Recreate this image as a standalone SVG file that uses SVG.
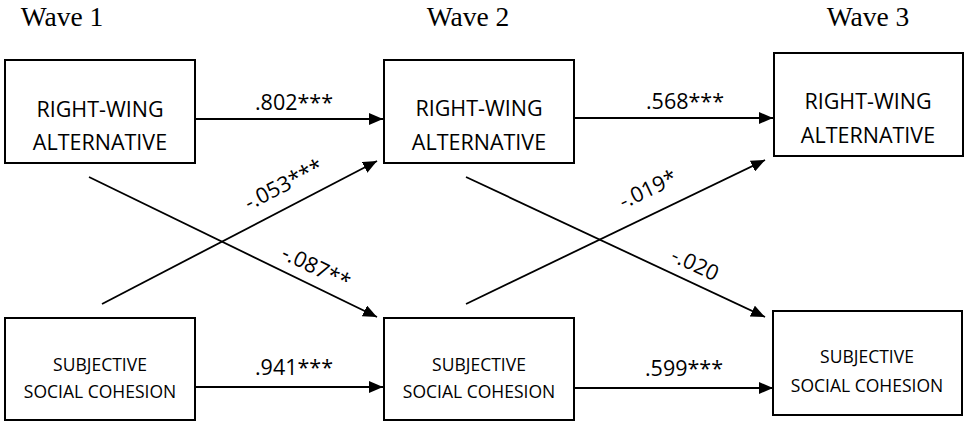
<svg xmlns="http://www.w3.org/2000/svg" width="965" height="422" viewBox="0 0 965 422">
  <style>
    .box { fill: #ffffff; stroke: #000000; stroke-width: 2; }
    .wave { font-family: "Liberation Serif", "Times New Roman", serif; font-size: 27.5px; fill: #000000; text-anchor: middle; }
    .rw { font-family: "Open Sans", "Liberation Sans", sans-serif; font-size: 21.5px; fill: #000000; text-anchor: middle; }
    .ssc { font-family: "Open Sans", "Liberation Sans", sans-serif; font-size: 17.5px; fill: #000000; text-anchor: middle; }
    .coef { font-family: "Open Sans", "Liberation Sans", sans-serif; font-size: 21.5px; fill: #000000; text-anchor: middle; }
    .path { stroke: #000000; stroke-width: 1.8; fill: none; marker-end: url(#head); }
  </style>
  <defs>
    <marker id="head" markerUnits="userSpaceOnUse" markerWidth="14" markerHeight="12" viewBox="0 0 14 12" refX="14" refY="6" orient="auto">
      <path d="M0,0 L14,6 L0,12 Z" fill="#000000"/>
    </marker>
  </defs>

  <!-- wave headings -->
  <text class="wave" x="62" y="26">Wave 1</text>
  <text class="wave" x="468" y="26">Wave 2</text>
  <text class="wave" x="868" y="26">Wave 3</text>

  <!-- connectors -->
  <g id="connectors">
    <line class="path" x1="195" y1="119" x2="383" y2="119"/>
    <line class="path" x1="574" y1="118" x2="773" y2="118"/>
    <line class="path" x1="195" y1="387" x2="383" y2="387"/>
    <line class="path" x1="574" y1="388" x2="773" y2="388"/>
    <line class="path" x1="89" y1="177" x2="377" y2="317"/>
    <line class="path" x1="102" y1="304" x2="377" y2="161"/>
    <line class="path" x1="466" y1="177" x2="765" y2="317"/>
    <line class="path" x1="466" y1="304" x2="765" y2="160"/>

    <text class="coef" x="294" y="110">.802***</text>
    <text class="coef" x="685" y="109">.568***</text>
    <text class="coef" x="294" y="375">.941***</text>
    <text class="coef" x="684" y="376">.599***</text>
    <text class="coef" transform="translate(287,191) rotate(-27.3)">-.053***</text>
    <text class="coef" transform="translate(313,274) rotate(25.9)">-.087**</text>
    <text class="coef" transform="translate(651,196) rotate(-25.7)">-.019*</text>
    <text class="coef" transform="translate(692,271) rotate(25.1)">-.020</text>
  </g>

  <!-- wave 1 -->
  <g id="rw1">
    <rect class="box" x="5" y="60" width="190" height="103"/>
    <text class="rw" x="100" y="117">RIGHT-WING</text>
    <text class="rw" x="100" y="150">ALTERNATIVE</text>
  </g>
  <g id="ssc1">
    <rect class="box" x="5" y="318" width="190" height="102"/>
    <text class="ssc" x="100" y="371">SUBJECTIVE</text>
    <text class="ssc" x="100" y="398">SOCIAL COHESION</text>
  </g>

  <!-- wave 2 -->
  <g id="rw2">
    <rect class="box" x="384" y="60" width="190" height="103"/>
    <text class="rw" x="479" y="116">RIGHT-WING</text>
    <text class="rw" x="479" y="150">ALTERNATIVE</text>
  </g>
  <g id="ssc2">
    <rect class="box" x="384" y="318" width="190" height="102"/>
    <text class="ssc" x="479" y="371">SUBJECTIVE</text>
    <text class="ssc" x="479" y="398">SOCIAL COHESION</text>
  </g>

  <!-- wave 3 -->
  <g id="rw3">
    <rect class="box" x="774" y="53" width="189" height="103"/>
    <text class="rw" x="868" y="109">RIGHT-WING</text>
    <text class="rw" x="868" y="143">ALTERNATIVE</text>
  </g>
  <g id="ssc3">
    <rect class="box" x="773" y="311" width="189" height="104"/>
    <text class="ssc" x="867" y="363">SUBJECTIVE</text>
    <text class="ssc" x="867" y="392">SOCIAL COHESION</text>
  </g>
</svg>
